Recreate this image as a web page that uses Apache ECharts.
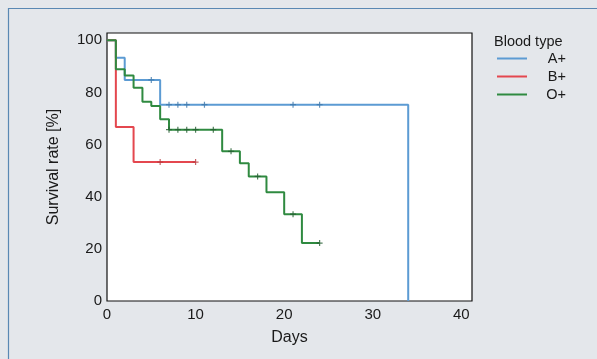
<!DOCTYPE html>
<html>
<head>
<meta charset="utf-8">
<script src="https://cdn.jsdelivr.net/npm/echarts@6/dist/echarts.min.js"></script>
<style>
  html, body { margin: 0; padding: 0; background: #e4e7eb; }
  #survivalChart { width: 597px; height: 359px; }
</style>
</head>
<body>
<div id="survivalChart"></div>
<script>
// Kaplan-Meier style curves
var groups = ["A+", "B+", "O+"];

var aTimes = [0, 1, 2, 6, 34];
var aSurv = [100, 93.3, 84.8, 75.3, 0];
var aCensor = [5, 7, 8, 9, 11, 21, 24];

var bTimes = [0, 1, 3, 10];
var bSurv = [100, 66.7, 53.3, 53.3];
var bCensor = [6, 10];

var oTimes = [0, 1, 2, 3, 4, 5, 6, 7, 13, 15, 16, 18, 20, 22, 24];
var oSurv = [100, 88.9, 86.5, 81.8, 76.4, 74.8, 69.7, 65.7, 57.4, 52.8, 47.8, 41.7, 33.3, 22.2, 22.2];
var oCensor = [7, 8, 9, 10, 12, 14, 17, 21, 24];

var xTicks = [0, 10, 20, 30, 40];
var yTicks = [0, 20, 40, 60, 80, 100];

var font = "'Liberation Sans', Arial, sans-serif";

function pairs(times, surv) {
  return times.map(function (t, i) { return [t, surv[i]]; });
}
// survival value of the step curve at time t (for the censor marks)
function survAt(times, surv, t) {
  var v = surv[0];
  for (var i = 0; i < times.length; i++) {
    if (times[i] <= t) v = surv[i];
  }
  return v;
}
function marks(times, surv, cens) {
  return cens.map(function (t) { return [t, survAt(times, surv, t)]; });
}

var plus = "path://M2,0H3V2H5V3H3V5H2V3H0V2H2Z";

function curve(name, times, surv, color) {
  return {
    name: name,
    type: "line",
    step: "end",
    data: pairs(times, surv),
    symbol: "none",
    lineStyle: { color: color, width: 2 },
    itemStyle: { color: color },
    silent: true,
    z: 3
  };
}
function censorMarks(times, surv, cens, color) {
  return {
    type: "scatter",
    data: marks(times, surv, cens),
    symbol: plus,
    symbolSize: 6,
    itemStyle: { color: color },
    silent: true,
    z: 4
  };
}

var chart = echarts.init(document.getElementById("survivalChart"));
chart.setOption({
  backgroundColor: "#e4e7eb",
  animation: false,
  textStyle: { fontFamily: font },
  graphic: [
    {
      type: "rect",
      shape: { x: 8.5, y: 8.5, width: 620, height: 380 },
      style: { fill: "none", stroke: "#5a88b3", lineWidth: 1.2 },
      silent: true,
      z: -1
    }
  ],
  title: {
    text: "Blood type",
    left: 494,
    top: 34,
    padding: 0,
    textStyle: { fontFamily: font, fontSize: 14.5, fontWeight: "normal", color: "#1a1a1a" }
  },
  legend: {
    data: groups,
    orient: "vertical",
    left: 497,
    top: 51,
    itemWidth: 30,
    itemHeight: 14,
    itemGap: 3,
    padding: 0,
    icon: "path://M0,0H30V2H0Z",
    symbolKeepAspect: true,
    formatter: "{a|{name}}",
    textStyle: {
      fontFamily: font,
      color: "#1a1a1a",
      rich: { a: { width: 34, align: "right", fontSize: 14.5, fontFamily: font, color: "#1a1a1a" } }
    }
  },
  grid: {
    left: 107,
    right: 125,
    top: 33,
    bottom: 58,
    show: true,
    backgroundColor: "#ffffff",
    borderColor: "#111111",
    borderWidth: 1.2
  },
  xAxis: {
    type: "value",
    min: 0,
    max: 41.2,
    interval: 10,
    name: "Days",
    nameLocation: "middle",
    nameGap: 29,
    nameTextStyle: { fontFamily: font, fontSize: 16, color: "#1a1a1a" },
    axisLine: { show: false },
    axisTick: { show: false },
    splitLine: { show: false },
    axisLabel: {
      margin: 6,
      fontFamily: font,
      fontSize: 15,
      color: "#1a1a1a",
      formatter: function (v) { return xTicks.indexOf(v) >= 0 ? String(v) : ""; }
    }
  },
  yAxis: {
    type: "value",
    min: 0,
    max: 102.8,
    interval: 20,
    name: "Survival rate [%]",
    nameLocation: "middle",
    nameGap: 45,
    nameTextStyle: { fontFamily: font, fontSize: 16, color: "#1a1a1a" },
    axisLine: { show: false },
    axisTick: { show: false },
    splitLine: { show: false },
    axisLabel: {
      margin: 5,
      fontFamily: font,
      fontSize: 15,
      color: "#1a1a1a",
      formatter: function (v) { return yTicks.indexOf(v) >= 0 ? String(v) : ""; }
    }
  },
  series: [
    curve("A+", aTimes, aSurv, "#5c9bd3"),
    curve("B+", bTimes, bSurv, "#e4474f"),
    curve("O+", oTimes, oSurv, "#2f8a40"),
    censorMarks(aTimes, aSurv, aCensor, "#3f78ab"),
    censorMarks(bTimes, bSurv, bCensor, "#b93a3f"),
    censorMarks(oTimes, oSurv, oCensor, "#245e31")
  ]
});
</script>
</body>
</html>
